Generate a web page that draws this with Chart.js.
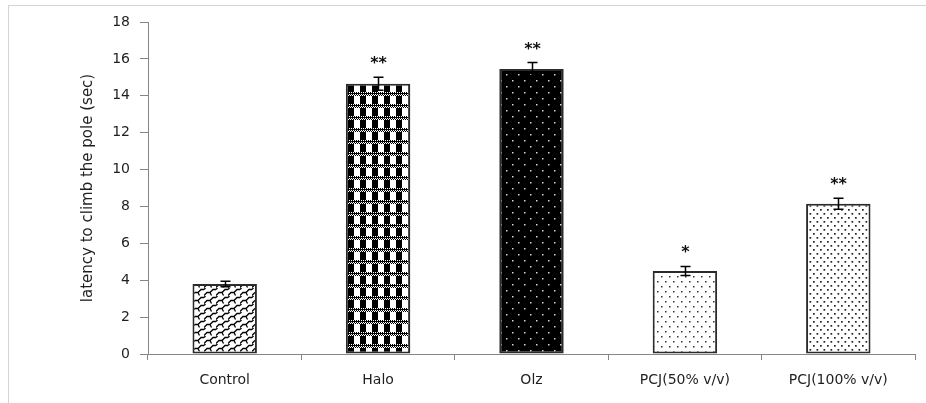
<!DOCTYPE html>
<html>
<head>
<meta charset="utf-8">
<script src="https://cdn.jsdelivr.net/npm/chart.js@4.4.1/dist/chart.umd.min.js"></script>
<style>
  html, body { margin: 0; padding: 0; background: #ffffff; }
  canvas { display: block; }
</style>
</head>
<body>
<canvas id="chart" width="926" height="403"></canvas>
<script>
// Treatment groups and measured pole-climb latency (mean ± SEM, seconds)
const categories = ['Control', 'Halo', 'Olz', 'PCJ(50% v/v)', 'PCJ(100% v/v)'];
const latency = [3.8, 14.65, 15.45, 4.5, 8.15];
const sem = [0.15, 0.35, 0.35, 0.25, 0.3];
const significance = ['', '**', '**', '*', '**'];
const yTickValues = [0, 2, 4, 6, 8, 10, 12, 14, 16, 18];

const AXIS_GREY = '#868686';
const TEXT = '#1f1f1f';
const FONT = 'DejaVu Sans';

// Small helper for hatch/fill patterns
function makePattern(w, h, paint) {
  const c = document.createElement('canvas');
  c.width = w; c.height = h;
  const g = c.getContext('2d');
  paint(g, w, h);
  return g.createPattern(c, 'repeat');
}
const ctx0 = document.getElementById('chart').getContext('2d');

// Control: weave / shingle strokes
const weave = makePattern(12, 8, (g) => {
  g.fillStyle = '#fff'; g.fillRect(0, 0, 12, 8);
  g.strokeStyle = '#000'; g.lineWidth = 1.3;
  g.beginPath();
  g.moveTo(0, 7.5); g.lineTo(3, 4.5); g.lineTo(6, 4.5); g.lineTo(9, 1.5); g.lineTo(12, 1.5);
  g.moveTo(6, 4.5); g.lineTo(7.5, 7.5);
  g.moveTo(0, 1.5); g.lineTo(1.5, 0);
  g.stroke();
});

// Halo: black blocks with dithered bands
const checks = makePattern(12, 12, (g) => {
  g.fillStyle = '#fff'; g.fillRect(0, 0, 12, 12);
  g.fillStyle = '#000';
  g.fillRect(0, 0, 6, 8);
  for (let x = 0; x < 12; x++) {
    for (let y = 8; y < 12; y++) {
      if ((x + y) % 2 === 0 || y === 9) g.fillRect(x, y, 1, 1);
    }
  }
});

// Olz: black with light dots
const darkDots = makePattern(12, 12, (g) => {
  g.fillStyle = '#000'; g.fillRect(0, 0, 12, 12);
  g.fillStyle = '#d8d8d8';
  g.fillRect(2, 2, 1.5, 1.5);
  g.fillRect(8, 8, 1.5, 1.5);
});

// PCJ 50 %: sparse dots
const sparseDots = makePattern(8, 10, (g) => {
  g.fillStyle = '#fff'; g.fillRect(0, 0, 8, 10);
  g.fillStyle = '#333';
  g.fillRect(1, 1, 1.5, 1.5);
  g.fillRect(5, 6, 1.5, 1.5);
});

// PCJ 100 %: slightly denser dots
const denseDots = makePattern(7, 8, (g) => {
  g.fillStyle = '#fff'; g.fillRect(0, 0, 7, 8);
  g.fillStyle = '#222';
  g.fillRect(1, 1, 1.7, 1.7);
  g.fillRect(4.5, 5, 1.7, 1.7);
});

const fills = [weave, checks, darkDots, sparseDots, denseDots];

// Outer frame and white background
const framePlugin = {
  id: 'frame',
  beforeDraw(chart) {
    const c = chart.ctx;
    c.save();
    c.fillStyle = '#fff';
    c.fillRect(0, 0, chart.width, chart.height);
    c.strokeStyle = '#d4d4d4';
    c.lineWidth = 1;
    c.strokeRect(8.5, 5.5, 1000, 1000);
    c.restore();
  }
};

// Error bars (± SEM) and significance marks
const errorPlugin = {
  id: 'errorBars',
  afterDatasetsDraw(chart) {
    const c = chart.ctx;
    const y = chart.scales.y;
    const meta = chart.getDatasetMeta(0);
    c.save();
    meta.data.forEach((bar, i) => {
      const x = Math.round(bar.x) + 0.5;
      const top = y.getPixelForValue(latency[i] + sem[i]);
      const bot = y.getPixelForValue(latency[i] - sem[i]);
      c.strokeStyle = '#000';
      c.lineWidth = 1.5;
      c.beginPath();
      c.moveTo(x, top); c.lineTo(x, bot);
      c.moveTo(x - 5, top); c.lineTo(x + 5, top);
      c.moveTo(x - 5, bot); c.lineTo(x + 5, bot);
      c.stroke();
      if (significance[i]) {
        c.fillStyle = '#111';
        c.font = 'bold 16px "' + FONT + '"';
        c.textAlign = 'center';
        c.textBaseline = 'alphabetic';
        c.fillText(significance[i], x, top - 9);
      }
    });
    c.restore();
  }
};

new Chart(ctx0, {
  type: 'bar',
  data: {
    labels: categories,
    datasets: [{
      data: latency,
      backgroundColor: fills,
      borderColor: '#2b2b2b',
      borderWidth: 2,
      borderSkipped: false,
      categoryPercentage: 1,
      barPercentage: 0.42
    }]
  },
  options: {
    responsive: false,
    devicePixelRatio: 1,
    animation: false,
    layout: { padding: { left: 0, top: 22, right: 11, bottom: 0 } },
    plugins: { legend: { display: false }, tooltip: { enabled: false } },
    scales: {
      x: {
        grid: { offset: true, drawOnChartArea: false, drawTicks: true, tickLength: 6, color: AXIS_GREY },
        border: { color: AXIS_GREY, width: 1 },
        ticks: { color: TEXT, font: { family: FONT, size: 14 }, padding: 12, maxRotation: 0 },
        afterFit(scale) { scale.height = 49; }
      },
      y: {
        min: 0,
        max: 18,
        afterBuildTicks(scale) { scale.ticks = yTickValues.map(v => ({ value: v })); },
        grid: { drawOnChartArea: false, drawTicks: true, tickLength: 8, color: AXIS_GREY },
        border: { color: AXIS_GREY, width: 1 },
        ticks: { color: TEXT, font: { family: FONT, size: 14 }, padding: 10 },
        title: {
          display: true,
          text: 'latency to climb the pole (sec)',
          color: TEXT,
          font: { family: FONT, size: 15 },
          padding: { top: 79, bottom: 0 }
        },
        afterFit(scale) { scale.width = 148; }
      }
    }
  },
  plugins: [framePlugin, errorPlugin]
});
</script>
</body>
</html>
